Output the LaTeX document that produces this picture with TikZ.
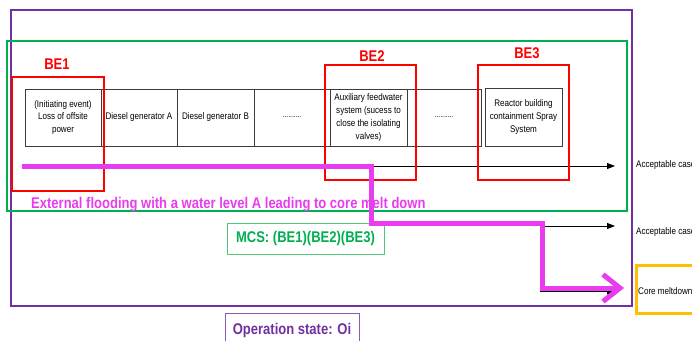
\documentclass[tikz,border=0pt]{standalone}
\usepackage{fontspec}
\setmainfont{Liberation Sans}[FakeStretch=0.84]
\usetikzlibrary{arrows.meta}
\definecolor{opurple}{RGB}{112,48,160}
\definecolor{mgreen}{RGB}{0,176,80}
\definecolor{lgreen}{RGB}{80,200,120}
\definecolor{bered}{RGB}{255,0,0}
\definecolor{cyellow}{RGB}{255,192,0}
\definecolor{flood}{RGB}{232,60,238}
\definecolor{tgray}{RGB}{60,60,60}
\begin{document}
\begin{tikzpicture}[x=1pt,y=-1pt,
  cell/.style={draw=tgray,line width=0.8pt,minimum height=57pt,inner sep=1pt,align=center,font=\fontsize{9.6}{12.8}\selectfont},
  dots/.style={font=\fontsize{8}{9}\selectfont,text depth=-2pt},
  belabel/.style={text=bered,font=\bfseries\fontsize{15.5}{18}\selectfont,anchor=base,inner sep=0pt},
  bebox/.style={draw=bered,line width=2.5pt},
  seq/.style={draw=black,line width=0.8pt,-{Triangle[length=8pt,width=6pt]}},
  small/.style={font=\fontsize{9.6}{12}\selectfont,anchor=base west,inner sep=0pt},
  big/.style={font=\bfseries\fontsize{15.5}{18}\selectfont}
]
\clip (0,0) rectangle (692,340);
\fill[white] (0,0) rectangle (692,340);
% frames
\draw[opurple,line width=2pt] (11,10) rectangle (632,306);
\draw[mgreen,line width=2pt] (7,41) rectangle (627,211);
% event tree header
\node[cell,minimum width=76pt] (c1) at (63,117.5) {(Initiating event)\\Loss of offsite\\power};
\node[cell,minimum width=76pt] (c2) at (139,117.5) {Diesel generator A};
\node[cell,minimum width=77pt] (c3) at (215.5,117.5) {Diesel generator B};
\node[cell,minimum width=76pt,dots] (c4) at (292,117.5) {..........};
\node[cell,minimum width=77pt] (c5) at (368.5,117.5) {Auxiliary feedwater\\system (sucess to\\close the isolating\\valves)};
\node[cell,minimum width=74pt,dots] (c6) at (444,117.5) {..........};
\node[cell,minimum width=77pt,minimum height=58pt] (c7) at (523.5,117) {Reactor building\\containment Spray\\System};
% sequences
\coordinate (a1s) at (25,166);
\coordinate (a1e) at (615,166);
\coordinate (a2s) at (540,226);
\coordinate (a2e) at (615,226);
\coordinate (a3s) at (540,291.5);
\coordinate (a3e) at (615,291.5);
\draw[seq] (a1s) -- (a1e);
\draw[seq] (a2s) -- (a2e);
\draw[seq] (a3s) -- (a3e);
% basic events
\draw[bebox] (12,77) rectangle (104,191);
\draw[bebox] (325,65) rectangle (416,180);
\draw[bebox] (478,65) rectangle (569,180);
\node[belabel] (be1) at (57,69.5) {BE1};
\node[belabel] (be2) at (372,61.7) {BE2};
\node[belabel] (be3) at (527,58.3) {BE3};
% outcomes
\node[small] (acc1) at (636,167) {Acceptable case};
\node[small] (acc2) at (636,234) {Acceptable case};
\node[draw=cyellow,line width=2.5pt,minimum width=70pt,minimum height=48pt,anchor=north west,inner sep=0pt] (core) at (635,264) {};
\node[small] (coretxt) at (638,294) {Core meltdown};
% MCS and state
\node[big,text=mgreen,draw=lgreen,line width=0.8pt,minimum width=157pt,minimum height=31pt,inner sep=0pt] (mcs) at (305.5,238.5) {MCS: (BE1)(BE2)(BE3)};
\node[big,text=opurple,draw=opurple!80,line width=0.8pt,minimum width=134pt,minimum height=34pt,inner sep=0pt] (ops) at (292,330) {Operation state: Oi};
% flooding path
\node[big,text=flood,anchor=base west,inner sep=0pt] (floodtxt) at (31,208.7) {External flooding with a water level A leading to core melt down};
\coordinate (m0) at (22,166);
\coordinate (m1) at (371,166);
\coordinate (m2) at (371,223);
\coordinate (m3) at (542,223);
\coordinate (m4) at (542,288);
\coordinate (m5) at (624,288);
\draw[flood,line width=5pt,line join=miter,-{Straight Barb[length=17pt,width=27pt]}] (m0) -- (m1) -- (m2) -- (m3) -- (m4) -- (m5);
\end{tikzpicture}
\end{document}
